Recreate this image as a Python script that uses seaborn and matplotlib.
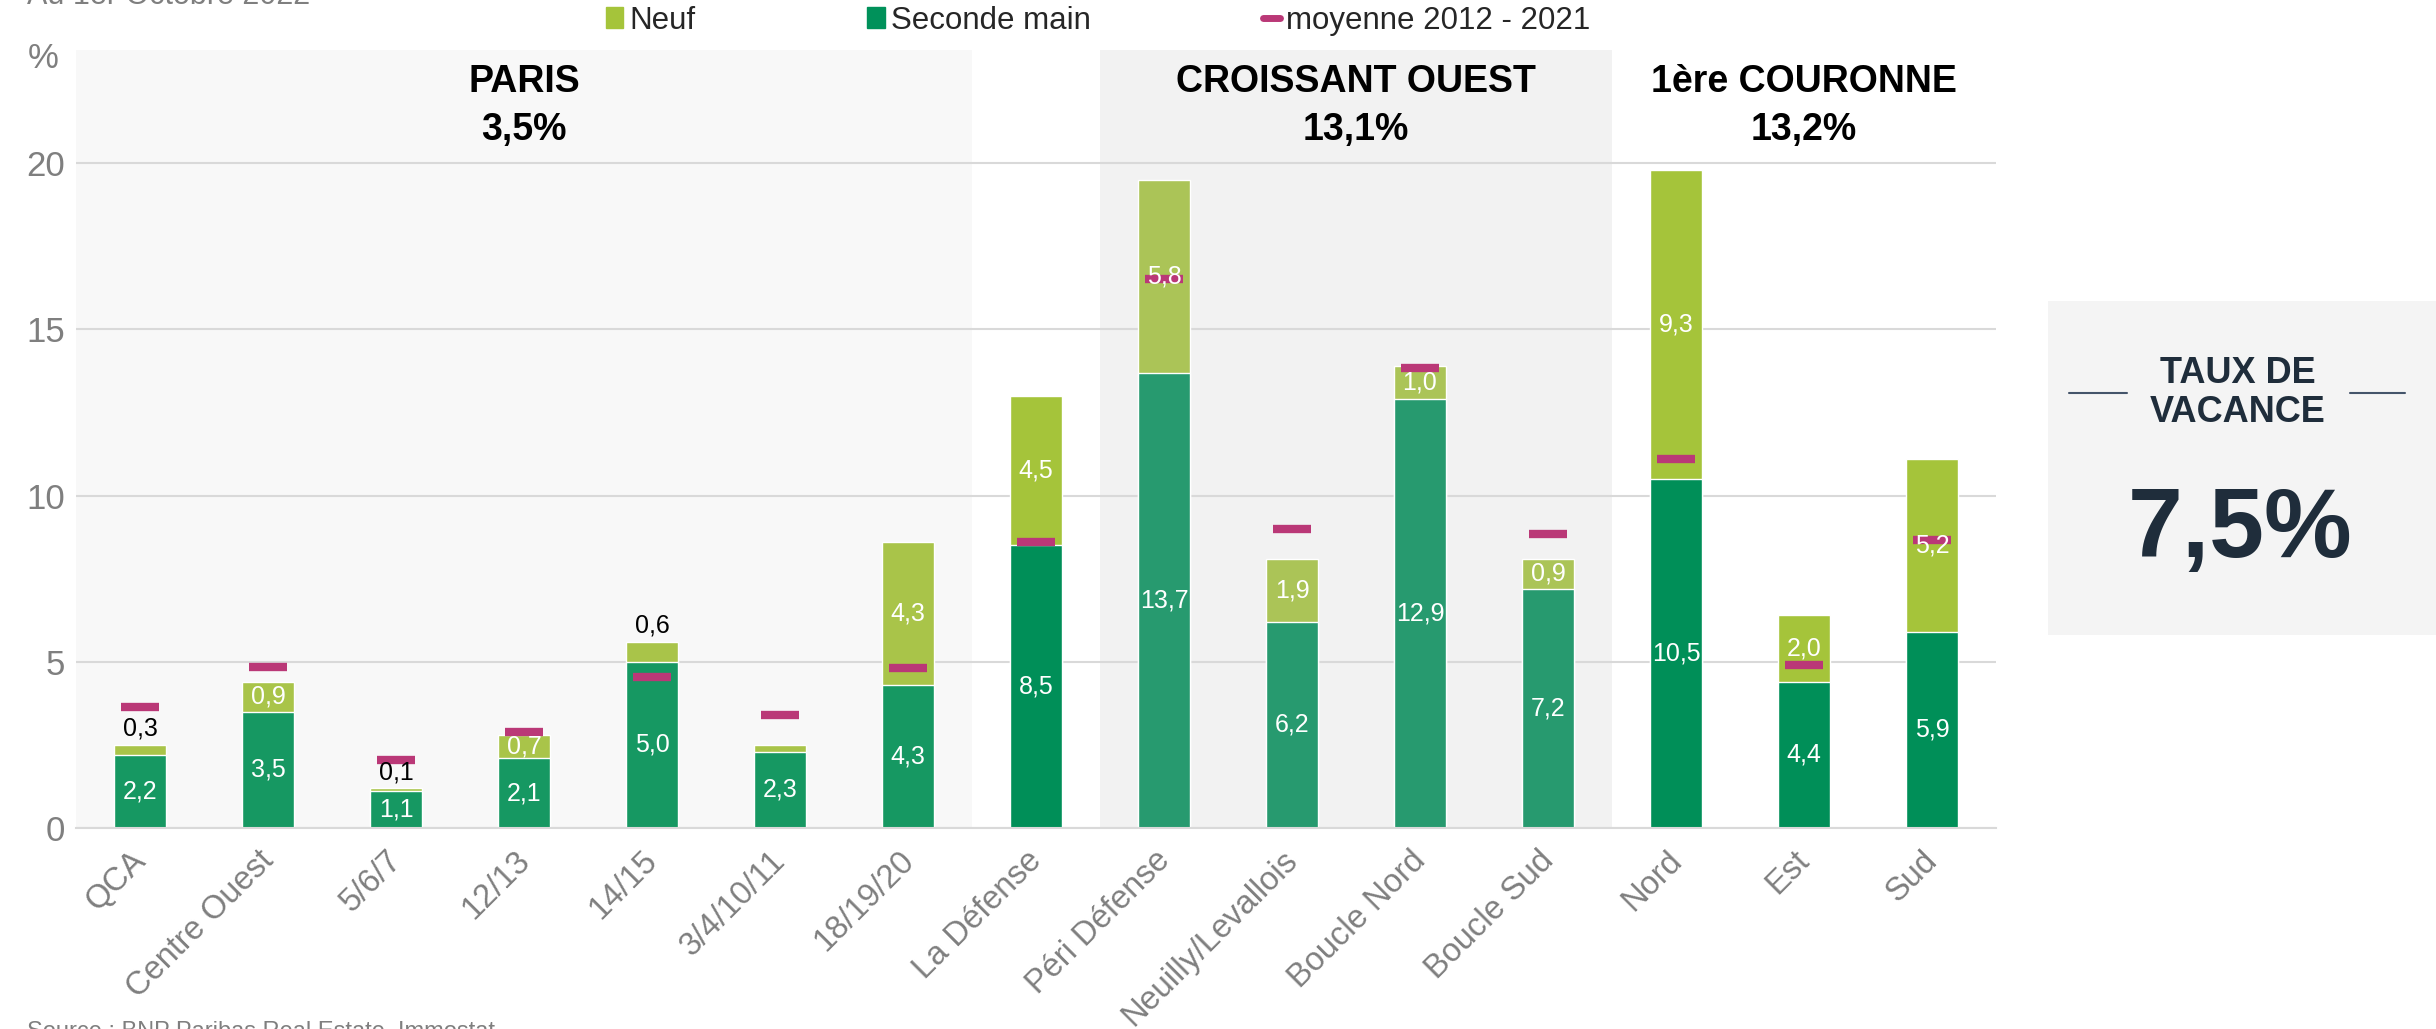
import numpy as np
import pandas as pd
import matplotlib.pyplot as plt
import matplotlib.transforms as mtransforms
import seaborn as sns
from matplotlib.patches import Patch, Rectangle
from matplotlib.lines import Line2D

# Données (taux de vacance en %)
zones = ['QCA', 'Centre Ouest', '5/6/7', '12/13', '14/15', '3/4/10/11', '18/19/20',
         'La Défense', 'Péri Défense', 'Neuilly/Levallois', 'Boucle Nord', 'Boucle Sud',
         'Nord', 'Est', 'Sud']
secteurs = ['PARIS'] * 7 + ['LA DEFENSE'] + ['CROISSANT OUEST'] * 4 + ['1ère COURONNE'] * 3
seconde_main = [2.2, 3.5, 1.1, 2.1, 5.0, 2.3, 4.3, 8.5, 13.7, 6.2, 12.9, 7.2, 10.5, 4.4, 5.9]
neuf = [0.3, 0.9, 0.1, 0.7, 0.6, 0.2, 4.3, 4.5, 5.8, 1.9, 1.0, 0.9, 9.3, 2.0, 5.2]
moyenne = [3.65, 4.85, 2.05, 2.9, 4.55, 3.4, 4.8, 8.6, 16.5, 9.0, 13.85, 8.85, 11.1, 4.9, 8.65]

titres = ['PARIS', 'CROISSANT OUEST', '1ère COURONNE']
taux_secteur = ['3,5%', '13,1%', '13,2%']
taux_global = '7,5%'

neuf_au_dessus = ['QCA', '5/6/7', '14/15']
neuf_sans_etiquette = ['3/4/10/11']

couleurs_sm = {'PARIS': '#169862', 'LA DEFENSE': '#008F58',
               'CROISSANT OUEST': '#279A6F', '1ère COURONNE': '#008F58'}
couleurs_neuf = {'PARIS': '#A9C449', 'LA DEFENSE': '#A5C43A',
                 'CROISSANT OUEST': '#ABC457', '1ère COURONNE': '#A5C43A'}
fonds = {'PARIS': '#F8F8F8', 'CROISSANT OUEST': '#F2F2F2'}
rose = '#BA3877'
gris = '#7F7F7F'
marine = '#1F2D3B'

df = pd.DataFrame({'zone': zones, 'secteur': secteurs, 'seconde': seconde_main,
                   'neuf': neuf, 'moyenne': moyenne})
df['total'] = df['seconde'] + df['neuf']

sns.set_style('white')
plt.rcParams['font.family'] = ['Liberation Sans', 'DejaVu Sans']

W, H = 2436, 1029
fig = plt.figure(figsize=(W / 100, H / 100), dpi=100)
ax = fig.add_axes([76 / W, 201 / H, 1920 / W, 778 / H])

pal_neuf = {z: couleurs_neuf[s] for z, s in zip(zones, secteurs)}
pal_sm = {z: couleurs_sm[s] for z, s in zip(zones, secteurs)}

sns.barplot(data=df, x='zone', y='total', hue='zone', palette=pal_neuf, width=0.4,
            saturation=1, legend=False, ax=ax, zorder=2)
sns.barplot(data=df, x='zone', y='seconde', hue='zone', palette=pal_sm, width=0.4,
            saturation=1, legend=False, ax=ax, zorder=2)

x = np.arange(len(zones))
ax.hlines(df['moyenne'], x - 0.145, x + 0.145, colors=rose, lw=6, zorder=4)

# fonds et titres des secteurs
for titre, taux in zip(titres, taux_secteur):
    idx = [i for i, s in enumerate(secteurs) if s == titre]
    x0, x1 = min(idx) - 0.5, max(idx) + 0.5
    if titre in fonds:
        ax.axvspan(x0, x1, color=fonds[titre], zorder=0, lw=0)
    ax.text((x0 + x1) / 2, 22.45, titre, ha='center', va='center', fontsize=27,
            fontweight='bold', color='black')
    ax.text((x0 + x1) / 2, 21.0, taux, ha='center', va='center', fontsize=27,
            fontweight='bold', color='black')

fmt = lambda v: f'{v:.1f}'.replace('.', ',')
for i, r in df.iterrows():
    ax.text(i, r['seconde'] / 2, fmt(r['seconde']), ha='center', va='center',
            color='white', fontsize=18, zorder=5)
    if r['zone'] in neuf_sans_etiquette:
        continue
    if r['zone'] in neuf_au_dessus:
        ax.text(i, r['total'] + 0.12, fmt(r['neuf']), ha='center', va='bottom',
                color='black', fontsize=18, zorder=5)
    else:
        ax.text(i, r['seconde'] + r['neuf'] / 2, fmt(r['neuf']), ha='center',
                va='center', color='white', fontsize=18, zorder=5)

ax.set_xlim(-0.5, len(zones) - 0.5)
ax.set_ylim(0, 23.4)
ax.set_yticks([0, 5, 10, 15, 20])
ax.yaxis.grid(True, color='#D9D9D9', lw=1.5)
ax.set_axisbelow(True)
ax.set_facecolor('white')
for s in ['top', 'left', 'right']:
    ax.spines[s].set_visible(False)
ax.spines['bottom'].set_color('#D9D9D9')
ax.spines['bottom'].set_linewidth(1.5)
ax.set_xlabel('')
ax.set_ylabel('')
ax.tick_params(axis='y', length=0, labelsize=25, labelcolor=gris, pad=8)
ax.set_xticks(x)
ax.set_xticks(np.arange(-0.5, len(zones)), minor=True)
ax.tick_params(axis='x', which='major', length=0, labelsize=23.5, labelcolor=gris, pad=12)
ax.tick_params(axis='x', which='minor', length=8, width=1.5, color='#D9D9D9')
ax.set_xticklabels(zones, rotation=45, ha='right')
decal = mtransforms.ScaledTranslation(12 / 100, 0, fig.dpi_scale_trans)
for lab in ax.get_xticklabels():
    lab.set_transform(lab.get_transform() + decal)

# légende
handles = [Patch(color='#A5C43A'), Patch(color='#00915A'), Line2D([], [], color=rose, lw=5)]
fig.legend(handles, ['Neuf', 'Seconde main', 'moyenne 2012 - 2021'], loc='center',
           bbox_to_anchor=(0.4508, 0.98), ncol=3, frameon=False, fontsize=22.5,
           handlelength=0.55, handleheight=0.65, handletextpad=0.2, columnspacing=5.5)

# calque en pixels pour les textes hors graphique
ov = fig.add_axes([0, 0, 1, 1])
ov.set_xlim(0, W)
ov.set_ylim(H, 0)
ov.axis('off')
ov.patch.set_alpha(0)
ov.text(43, 59, '%', ha='center', va='center', fontsize=25, color=gris)
ov.text(27, 4, 'Au 1er Octobre 2022', ha='left', va='baseline', fontsize=22, color=gris)
ov.text(27, 1021, 'Source : BNP Paribas Real Estate, Immostat', ha='left', va='top',
        fontsize=17, color=gris)

ov.add_patch(Rectangle((2048, 301), 400, 334, color='#F4F4F4', lw=0))
ov.text(2238, 393, 'TAUX DE\nVACANCE', ha='center', va='center', fontsize=26,
        fontweight='bold', color=marine, linespacing=1.15)
ov.plot([2069, 2127], [393, 393], color='#44546A', lw=1.5)
ov.plot([2350, 2405], [393, 393], color='#44546A', lw=1.5)
ov.text(2240, 531, taux_global, ha='center', va='center', fontsize=71,
        fontweight='bold', color=marine)

fig.savefig('out.png', dpi=100)
